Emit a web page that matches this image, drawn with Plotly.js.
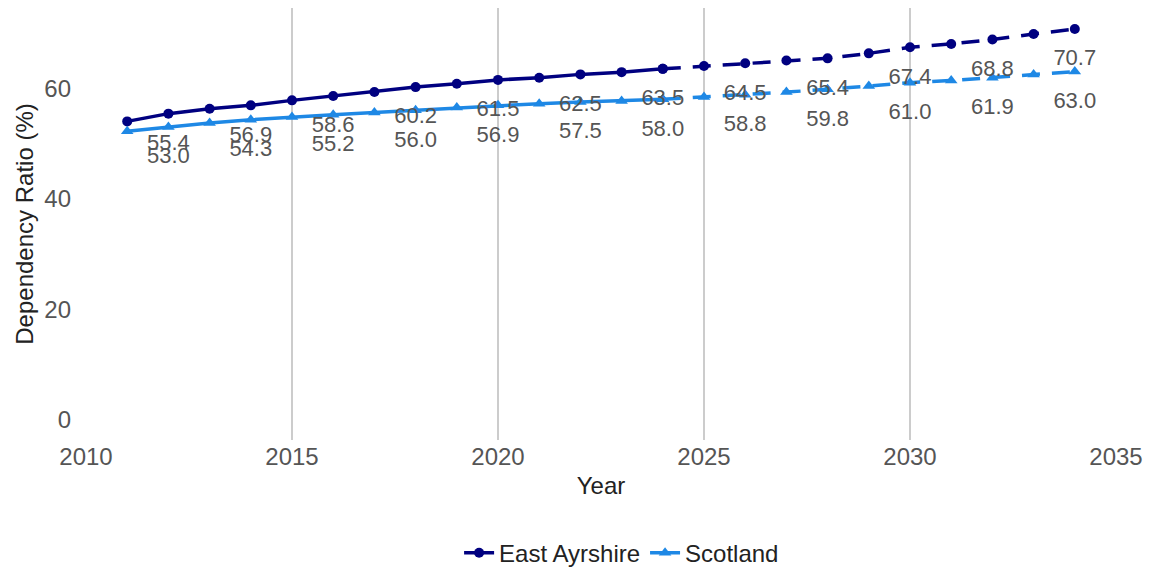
<!DOCTYPE html>
<html>
<head>
<meta charset="utf-8">
<script src="https://cdn.plot.ly/plotly-3.0.1.min.js"></script>
<style>html,body{margin:0;padding:0;background:#fff;}#chart{width:1156px;height:572px;}</style>
</head>
<body>
<div id="chart"></div>
<script>
const years = [2011,2012,2013,2014,2015,2016,2017,2018,2019,2020,2021,2022,2023,2024,2025,2026,2027,2028,2029,2030,2031,2032,2033,2034];
const eastAyrshire = [54.0,55.4,56.3,56.9,57.8,58.6,59.3,60.2,60.8,61.5,61.9,62.5,62.9,63.5,64.0,64.5,65.0,65.4,66.3,67.4,68.0,68.8,69.8,70.7];
const scotland = [52.2,53.0,53.7,54.3,54.8,55.2,55.6,56.0,56.5,56.9,57.2,57.5,57.7,58.0,58.4,58.8,59.3,59.8,60.4,61.0,61.4,61.9,62.5,63.0];
const lastObservedYear = 2024;
const labelEvery = 2;

const navy = '#000080';
const blue = '#1E88E5';
const FONT = 'Liberation Sans, Arial, sans-serif';

function lineTrace(vals, name, color, symbol, size, observed){
  const xs=[], ys=[];
  years.forEach((y,i)=>{
    if (observed ? y <= lastObservedYear : y >= lastObservedYear){ xs.push(y); ys.push(vals[i]); }
  });
  return {
    x: xs, y: ys, name: name, type:'scatter', mode:'lines+markers',
    line:{color:color, width:3.5, dash: observed ? 'solid' : '18px,12px'},
    marker:{color:color, symbol:symbol, size:size},
    showlegend: observed, legendgroup:name, hoverinfo:'x+y'
  };
}
function labelTrace(vals, name){
  const xs=[], ys=[], ts=[];
  years.forEach((y,i)=>{ if (y % labelEvery === 0){ xs.push(y); ys.push(vals[i]); ts.push(vals[i].toFixed(1)); } });
  return {
    x: xs, y: ys, text: ts, name: name, type:'scatter', mode:'markers+text',
    textposition:'bottom center',
    textfont:{family:FONT, size:22, color:'#555555'},
    marker:{size:30, opacity:0, color:'#ffffff'},
    showlegend:false, legendgroup:name, hoverinfo:'skip'
  };
}

const data = [
  lineTrace(eastAyrshire,'East Ayrshire',navy,'circle',10,true),
  lineTrace(scotland,'Scotland',blue,'triangle-up',11,true),
  lineTrace(eastAyrshire,'East Ayrshire',navy,'circle',10,false),
  lineTrace(scotland,'Scotland',blue,'triangle-up',11,false),
  labelTrace(eastAyrshire,'East Ayrshire'),
  labelTrace(scotland,'Scotland')
];

const layout = {
  width:1156, height:572,
  margin:{l:86, r:40, t:8, b:132},
  paper_bgcolor:'#ffffff', plot_bgcolor:'#ffffff',
  font:{family:FONT, size:24, color:'#222222'},
  xaxis:{
    range:[2010,2035], tickvals:[2010,2015,2020,2025,2030,2035],
    showgrid:true, gridcolor:'#cccccc', gridwidth:2, zeroline:false,
    showline:false, ticks:'', ticklabelstandoff:0,
    tickfont:{size:24, color:'#555555'},
    title:{text:'Year', font:{size:24, color:'#222222'}, standoff:8}
  },
  yaxis:{
    range:[-3.6,74.5], tickvals:[0,20,40,60],
    showgrid:false, zeroline:false, showline:false, ticks:'', ticklabelstandoff:14,
    tickfont:{size:24, color:'#555555'},
    title:{text:'Dependency Ratio (%)', font:{size:24, color:'#222222'}, standoff:3}
  },
  legend:{orientation:'h', x:0.52, xanchor:'center', yref:'container', y:0.033, yanchor:'middle', font:{size:24,color:'#222222'}},
  showlegend:true
};
Plotly.newPlot('chart', data, layout, {displayModeBar:false, staticPlot:true});
</script>
</body>
</html>
